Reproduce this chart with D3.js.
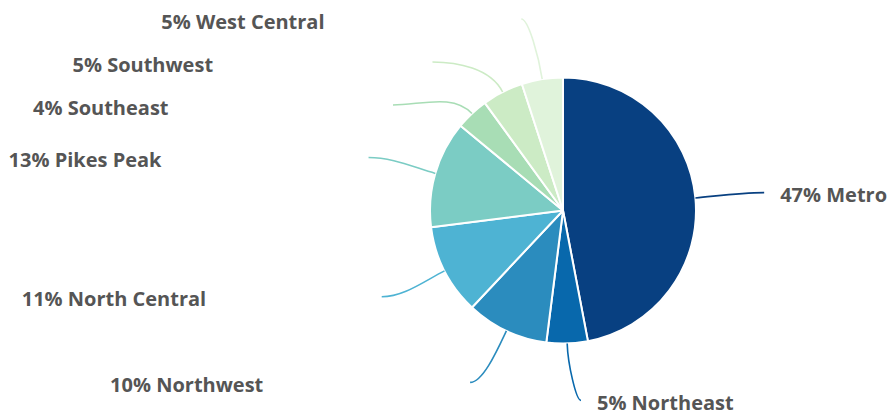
<!DOCTYPE html>
<html>
<head>
<meta charset="utf-8">
<script src="https://cdn.jsdelivr.net/npm/d3@7"></script>
<style>
  html, body { margin: 0; padding: 0; background: #ffffff; }
  svg { display: block; }
  .label { font-family: "Open Sans", "Noto Sans", sans-serif; font-weight: 700; fill: #555555; }
</style>
</head>
<body>
<svg id="chart" width="888" height="416"></svg>
<script>
// Share of total by region (percent), clockwise from 12 o'clock
const regions = ["Metro", "Northeast", "Northwest", "North Central", "Pikes Peak", "Southeast", "Southwest", "West Central"];
const shares = [47, 5, 10, 11, 13, 4, 5, 5];
const colors = ["#084081", "#0868ac", "#2b8cbe", "#4eb3d3", "#7bccc4", "#a8ddb5", "#ccebc5", "#e0f3db"];

const W = 888, H = 416;
const cx = 563, cy = 210.5, radius = 133;
const elbowR = 190;      // radius where leader lines turn horizontal
const tail = 12;         // horizontal run after the elbow
const rowH = 43;         // minimum vertical spacing between labels
const minY = 19, maxY = H - 12;
const fontSize = 20;

const svg = d3.select("#chart");
const g = svg.append("g").attr("transform", `translate(${cx},${cy})`);

const pie = d3.pie().sort(null).value(d => d);
const arc = d3.arc().innerRadius(0).outerRadius(radius);
const arcs = pie(shares);

const color = d3.scaleOrdinal().domain(regions).range(colors);

g.selectAll("path.slice")
  .data(arcs)
  .join("path")
  .attr("class", "slice")
  .attr("d", arc)
  .attr("fill", (d, i) => color(regions[i]))
  .attr("stroke", "#ffffff")
  .attr("stroke-width", 2)
  .attr("stroke-linejoin", "round");

// Label anchors: start on the rim, desired elbow on a wider circle
const items = arcs.map((a, i) => {
  const mid = (a.startAngle + a.endAngle) / 2;
  const s = Math.sin(mid), c = -Math.cos(mid);
  return {
    i, mid, side: s >= 0 ? 1 : -1,
    ux: s, uy: c,
    p0: [radius * s, radius * c],
    x0: elbowR * s,
    want: elbowR * c,
    y: elbowR * c
  };
});

// Spread labels vertically on each side so they do not collide
function spread(list) {
  list.sort((a, b) => a.want - b.want);
  const clusters = [];
  list.forEach(it => {
    clusters.push({ items: [it] });
    fit(clusters[clusters.length - 1]);
    while (clusters.length > 1) {
      const cur = clusters[clusters.length - 1], prev = clusters[clusters.length - 2];
      if (prev.top + prev.items.length * rowH > cur.top) {
        prev.items = prev.items.concat(cur.items);
        clusters.pop();
        fit(prev);
      } else break;
    }
  });
  clusters.forEach(cl => cl.items.forEach((it, k) => { it.y = cl.top + k * rowH; }));
}
function fit(cl) {
  const n = cl.items.length;
  let top = d3.mean(cl.items, (it, k) => it.want - k * rowH);
  top = Math.max(top, minY - cy);
  top = Math.min(top, maxY - cy - (n - 1) * rowH);
  cl.top = top;
}
spread(items.filter(d => d.side > 0));
spread(items.filter(d => d.side < 0));

items.forEach(it => {
  const dy = it.y;
  const dx = Math.abs(dy) < elbowR ? Math.sqrt(elbowR * elbowR - dy * dy) : Math.abs(it.x0);
  it.p2 = [it.side * (Math.max(dx, 0) + tail), dy];
});

// Curved leader lines: leave the rim radially, arrive horizontally
g.selectAll("path.leader")
  .data(items)
  .join("path")
  .attr("class", "leader")
  .attr("fill", "none")
  .attr("stroke", d => color(regions[d.i]))
  .attr("stroke-width", 1.6)
  .attr("d", d => {
    const [x0, y0] = d.p0, [x2, y2] = d.p2;
    const dist = Math.hypot(x2 - x0, y2 - y0);
    const c1 = [x0 + d.ux * 0.35 * dist, y0 + d.uy * 0.35 * dist];
    const c2 = [x2 - d.side * 0.35 * Math.abs(x2 - x0), y2];
    const p = d3.path();
    p.moveTo(x0, y0);
    p.bezierCurveTo(c1[0], c1[1], c2[0], c2[1], x2, y2);
    return p.toString();
  });

// Labels: right side just past the line, left side in a fixed column offset
g.selectAll("text.label")
  .data(items)
  .join("text")
  .attr("class", "label")
  .attr("font-size", fontSize)
  .attr("x", d => d.side > 0 ? d.p2[0] + 16 : d.p2[0] - 360)
  .attr("y", d => d.p2[1] + 2)
  .attr("dominant-baseline", "central")
  .attr("text-anchor", "start")
  .text(d => `${shares[d.i]}% ${regions[d.i]}`);
</script>
</body>
</html>
